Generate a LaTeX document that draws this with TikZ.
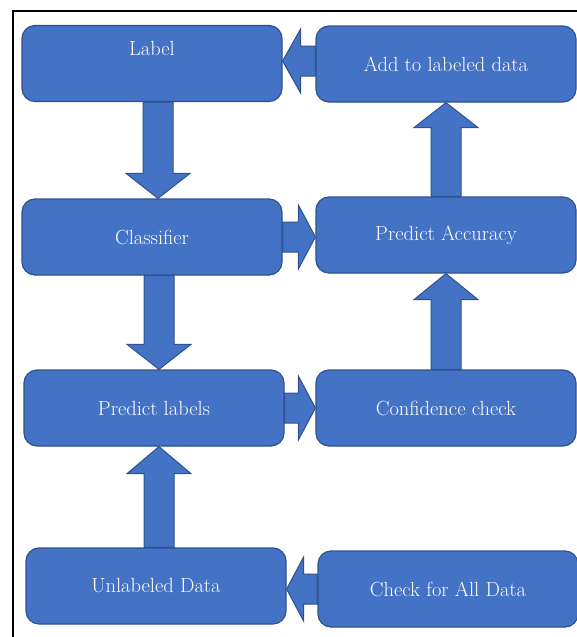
\documentclass[tikz,border=0pt]{standalone}
\usepackage{xcolor}
\usepackage{tikz}
\usetikzlibrary{positioning,calc}
\definecolor{boxblue}{HTML}{4472C4}
\definecolor{boxedge}{HTML}{2F528F}

\begin{document}
\begin{tikzpicture}[
    x=1pt, y=-1pt,
    stage/.style={rectangle, draw=boxedge, line width=1.2pt, fill=boxblue, rounded corners=13pt, minimum width=260pt, minimum height=76pt, text=white, font=\fontsize{20.5}{24}\selectfont},
    blockarr/.style={draw=boxedge, line width=1pt, fill=boxblue, to path={
        let \p1=(\tikztostart), \p2=(\tikztotarget),
            \n1={atan2(\y2-\y1,\x2-\x1)}, \n2={veclen(\x2-\x1,\y2-\y1)}
        in ([shift={(\p1)},rotate=\n1]0,-15)
        -- ([shift={(\p1)},rotate=\n1]{\n2-#1},-15)
        -- ([shift={(\p1)},rotate=\n1]{\n2-#1},-32)
        -- ([shift={(\p1)},rotate=\n1]{\n2},0)
        -- ([shift={(\p1)},rotate=\n1]{\n2-#1},32)
        -- ([shift={(\p1)},rotate=\n1]{\n2-#1},15)
        -- ([shift={(\p1)},rotate=\n1]0,15) -- cycle}}
]
    \useasboundingbox (0,0) rectangle (577,637);

    % ============ Frame ============
    \draw[line width=2pt] (12.5,650) -- (12.5,10.5) -- (590,10.5);

    % ============ Left column ============
    \node[stage, text depth=31pt] (lab) at (152,63.5) {Label};
    \node[stage] (cls) at (152,237) {Classifier};
    \node[stage] (pl) at (154,408) {Predict labels};
    \node[stage] (ul) at (156,586) {Unlabeled Data};

    % ============ Right column ============
    \node[stage] (add) at (446,64) {Add to labeled data};
    \node[stage] (acc) at (446,235) {Predict Accuracy};
    \node[stage] (conf) at (446,408) {Confidence check};
    \node[stage] (chk) at (448,589) {Check for All Data};

    % arrow end points off the box centres
    \coordinate (labout) at ($(lab.south)+(6,0)$);
    \coordinate (clsin) at (labout |- cls.north);
    \coordinate (clsout) at ($(cls.south)+(7,0)$);
    \coordinate (plin) at (clsout |- pl.north);
    \coordinate (ulout) at ($(ul.north)+(3,0)$);
    \coordinate (plup) at (ulout |- pl.south);
    \coordinate (addout) at ($(add.west)+(0,-3)$);
    \coordinate (labin) at (addout -| lab.east);

    % ============ Connections ============
    % down the left column
    \draw[blockarr=25] (labout) to (clsin);
    \draw[blockarr=25] (clsout) to (plin);
    \draw[blockarr=27] (ulout) to (plup);

    % across to the right column
    \draw[blockarr=17] (cls.east) to (cls.east -| acc.west);
    \draw[blockarr=17] (pl.east) to (pl.east -| conf.west);

    % up the right column
    \draw[blockarr=26] (conf.north) to (conf.north |- acc.south);
    \draw[blockarr=25] (acc.north) to (acc.north |- add.south);

    % back to the left
    \draw[blockarr=18] (addout) to (labin);
    \draw[blockarr=17] (chk.west) to (chk.west -| ul.east);

\end{tikzpicture}
\end{document}
